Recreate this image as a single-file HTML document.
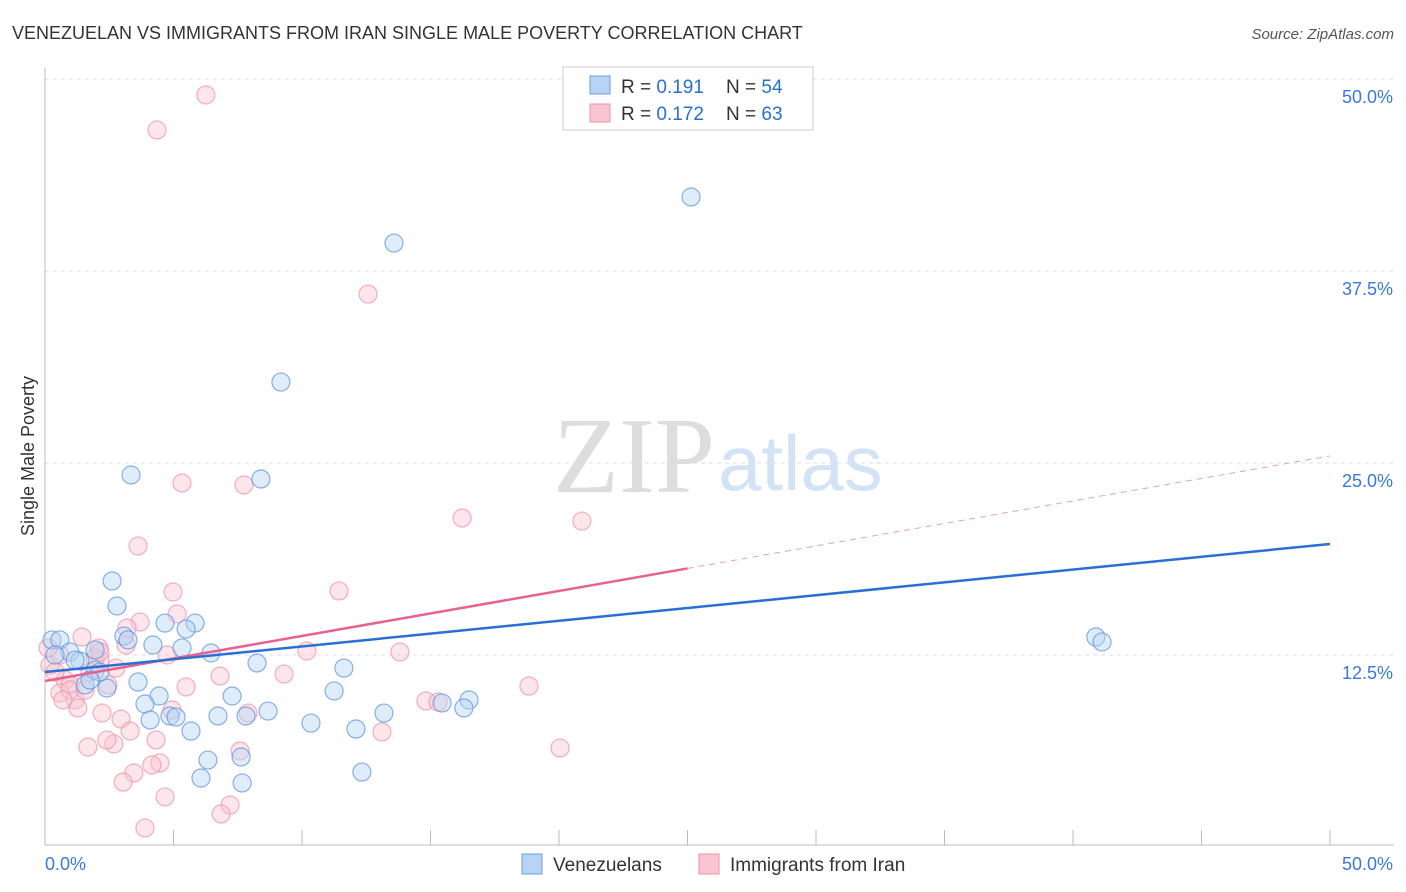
<!DOCTYPE html>
<html><head><meta charset="utf-8"><style>
body{margin:0;background:#fff;font-family:"Liberation Sans",sans-serif}
</style></head><body>
<svg id="c" width="1406" height="892" xmlns="http://www.w3.org/2000/svg" style="display:block">
<text x="12" y="39" font-size="18" fill="#333">VENEZUELAN VS IMMIGRANTS FROM IRAN SINGLE MALE POVERTY CORRELATION CHART</text>
<text x="1394" y="39" font-size="15" fill="#555" text-anchor="end" font-style="italic">Source: ZipAtlas.com</text>
<text x="553" y="492" font-size="108" fill="#ddd" font-family="Liberation Serif,serif">ZIP</text>
<text x="718" y="490" font-size="78" fill="#d3e3f5">atlas</text>
<g id="grid"></g>
<g id="marks"></g>
<text transform="translate(34,456) rotate(-90)" font-size="18" fill="#333" text-anchor="middle">Single Male Poverty</text>
<g>
<rect x="563" y="67" width="250" height="63" fill="#fff" stroke="#ccc"/>
<rect x="590" y="76" width="20" height="18" fill="#b8d4f5" stroke="#6a9ee0"/>
<rect x="590" y="104" width="20" height="18" fill="#f9c5d3" stroke="#ec8fab"/>
<text x="621" y="93" font-size="19" fill="#333">R = <tspan fill="#2a6fd1">0.191</tspan></text>
<text x="726" y="93" font-size="19" fill="#333">N = <tspan fill="#2a6fd1">54</tspan></text>
<text x="621" y="120" font-size="19" fill="#333">R = <tspan fill="#2a6fd1">0.172</tspan></text>
<text x="726" y="120" font-size="19" fill="#333">N = <tspan fill="#2a6fd1">63</tspan></text>
</g>
<g>
<rect x="522" y="854" width="20" height="20" fill="#b8d4f5" stroke="#6a9ee0"/>
<text x="553" y="871" font-size="19" fill="#333">Venezuelans</text>
<rect x="699" y="854" width="20" height="20" fill="#f9c5d3" stroke="#ec8fab"/>
<text x="730" y="871" font-size="19" fill="#333">Immigrants from Iran</text>
</g>
</svg>
<script>
const blueX=[13.58,25.14,9.18,3.35,8.40,2.61,2.80,4.67,5.84,5.49,3.07,3.23,4.20,5.33,6.46,40.89,41.13,8.25,11.63,3.62,2.41,11.25,4.44,7.28,3.89,15.45,16.50,16.30,8.68,13.19,6.73,7.82,4.86,5.10,4.09,10.35,12.10,5.68,6.34,7.63,12.33,6.07,7.67,0.27,0.58,0.97,1.36,1.95,1.17,1.95,2.14,1.56,1.75,0.39];
const blueY=[39.32,42.32,30.27,24.22,23.96,17.32,15.69,14.58,14.58,14.19,13.74,13.48,13.15,12.96,12.63,13.67,13.35,11.98,11.65,10.74,10.35,10.16,9.83,9.83,9.31,9.38,9.57,9.05,8.85,8.72,8.53,8.53,8.53,8.46,8.27,8.07,7.68,7.55,5.66,5.86,4.88,4.49,4.17,13.48,13.48,12.70,12.11,12.83,12.17,11.52,11.39,10.55,10.87,12.50];
const pinkX=[6.26,4.36,12.57,5.33,7.74,16.23,20.89,3.62,4.98,11.44,5.14,3.70,1.44,3.19,2.10,10.19,13.81,4.75,3.15,2.76,6.81,9.30,5.49,18.83,2.14,2.45,0.78,0.97,1.75,0.58,1.17,1.28,2.22,2.96,7.90,4.94,14.82,15.29,3.31,4.32,13.11,7.59,1.67,2.68,2.41,20.04,4.47,4.16,3.46,3.04,4.67,7.20,6.85,3.89,0.19,0.39,0.58,0.12,0.97,1.56,1.95,0.70,2.14];
const pinkY=[48.96,46.68,36.00,23.70,23.57,21.42,21.22,19.60,16.60,16.67,15.17,14.65,13.67,14.26,12.96,12.76,12.70,12.50,13.15,11.65,11.13,11.26,10.42,10.48,12.17,10.55,10.87,10.55,11.39,10.03,9.57,9.05,8.72,8.33,8.72,8.92,9.51,9.44,7.55,6.97,7.49,6.25,6.51,6.71,6.97,6.45,5.47,5.34,4.82,4.23,3.26,2.73,2.15,1.24,11.85,11.39,12.50,12.96,10.22,10.22,12.30,9.57,12.70];
const yTicks=[12.5,25.0,37.5,50.0];
const blueTrend=[11.39,19.73];
const pinkTrend=[10.81,25.46];
const pinkSolidEnd=25;
const NS="http://www.w3.org/2000/svg";
const sx=v=>45+v*25.7, sy=v=>847-v*15.36;
function mk(t,a,p){const e=document.createElementNS(NS,t);for(const k in a)e.setAttribute(k,a[k]);p.appendChild(e);return e;}
const g=document.getElementById('grid'),m=document.getElementById('marks');
yTicks.forEach(t=>{
 const l=mk('line',{x1:45,x2:1394,y1:sy(t),y2:sy(t),stroke:'#ddd','stroke-dasharray':'4,4'},g);
 
 
 const tx=mk('text',{x:1393,y:sy(t)+24,'font-size':18,fill:'#3b78d8','text-anchor':'end'},g);
 tx.textContent=t.toFixed(1)+'%';
 
 
});
mk('line',{x1:45,x2:45,y1:68,y2:845,stroke:'#bbb'},g);
mk('line',{x1:45,x2:1394,y1:845,y2:845,stroke:'#bbb'},g);
for(let i=1;i<=10;i++){mk('line',{x1:sx(i*5),x2:sx(i*5),y1:830,y2:845,stroke:'#bbb'},g);}
[['0.0%',45,'start'],['50.0%',1393,'end']].forEach(a=>{const t=mk('text',{x:a[1],y:870,'font-size':18,fill:'#3b78d8','text-anchor':a[2]},g);t.textContent=a[0];

});
function pts(X,Y,f,s,name){X.forEach((x,i)=>{const c=mk('circle',{cx:sx(x),cy:sy(Y[i]),r:9,fill:f,'fill-opacity':0.45,stroke:s,'stroke-opacity':0.7,'stroke-width':1.2},m);

});}
pts(pinkX,pinkY,'#f9c5d3','#ec8fab','iran-point');
pts(blueX,blueY,'#b8d4f5','#5a90dc','venezuelan-point');
const pSolidY=pinkTrend[0]+(pinkTrend[1]-pinkTrend[0])*pinkSolidEnd/50;
let l=mk('line',{x1:sx(0),y1:sy(pinkTrend[0]),x2:sx(pinkSolidEnd),y2:sy(pSolidY),stroke:'#e8628e','stroke-width':2.5},m);


l=mk('line',{x1:sx(pinkSolidEnd),y1:sy(pSolidY),x2:sx(50),y2:sy(pinkTrend[1]),stroke:'#e8a0b8','stroke-width':1,'stroke-dasharray':'6,5'},m);


l=mk('line',{x1:sx(0),y1:sy(blueTrend[0]),x2:sx(50),y2:sy(blueTrend[1]),stroke:'#2a6fd1','stroke-width':2.5},m);


</script>
</body></html>
